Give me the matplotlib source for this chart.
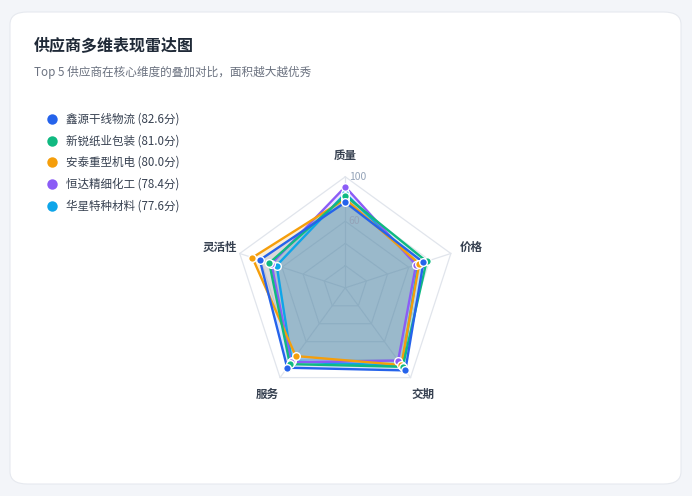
import numpy as np
import matplotlib
matplotlib.use("Agg")
from matplotlib import pyplot as plt
from matplotlib.patches import FancyBboxPatch
from matplotlib.lines import Line2D

plt.rcParams['font.family'] = ['Noto Sans CJK SC', 'DejaVu Sans']

# 数据
dims = ['质量', '价格', '交期', '服务', '灵活性']
names = ['鑫源干线物流', '新锐纸业包装', '安泰重型机电', '恒达精细化工', '华星特种材料']
totals = [82.6, 81.0, 80.0, 78.4, 77.6]
scores = [
    [77, 74, 92, 89, 81],
    [83, 77, 88, 85, 72],
    [80, 70, 86, 76, 88],
    [91, 67, 81, 83, 70],
    [85, 69, 87, 82, 65],
]
colors = ['#2563eb', '#10b981', '#f59e0b', '#8b5cf6', '#0ea5e9']
levels = [20, 40, 60, 80, 100]
tick_show = [60, 100]

W, H = 692, 496
fig = plt.figure(figsize=(W / 100, H / 100), dpi=100)
fig.patch.set_facecolor('#f3f5f9')

card = FancyBboxPatch((10 / W, 12 / H), 671 / W, 472 / H,
                      boxstyle='round,pad=0,rounding_size=0.025',
                      transform=fig.transFigure, facecolor='white',
                      edgecolor='#e6e9ef', linewidth=0.8, zorder=-5)
fig.add_artist(card)

fig.text(34 / W, 1 - 46 / H, '供应商多维表现雷达图', fontsize=11.5, fontweight='bold',
         color='#1f2937', va='center', ha='left')
fig.text(34 / W, 1 - 72 / H, 'Top 5 供应商在核心维度的叠加对比，面积越大越优秀',
         fontsize=8.4, color='#6b7280', va='center', ha='left')

# 图例
for i, (n, t, c) in enumerate(zip(names, totals, colors)):
    y = 1 - (119 + i * 21.7) / H
    fig.add_artist(Line2D([52 / W], [y], marker='o', ms=7.5, color=c, mec='none',
                          transform=fig.transFigure))
    fig.text(66 / W, y, f'{n} ({t:.1f}分)', fontsize=8.3, color='#374151',
             va='center', ha='left')

# 雷达
cx, cy, R = 345.3, 287.8, 111.0
half = 150
lim = half / R * 100
ax = fig.add_axes([(cx - half) / W, (H - cy - half) / H, 2 * half / W, 2 * half / H])
ax.set_xlim(-lim, lim)
ax.set_ylim(-lim, lim)
ax.axis('off')

ang = np.arange(len(dims)) * 2 * np.pi / len(dims)
sx, sy = np.sin(ang), np.cos(ang)

for lv in levels:
    ax.plot(np.append(sx, sx[0]) * lv, np.append(sy, sy[0]) * lv,
            color='#e1e5ec', lw=0.9, zorder=1)
for k in range(len(dims)):
    ax.plot([0, sx[k] * 100], [0, sy[k] * 100], color='#e1e5ec', lw=0.9, zorder=1)

for tv in tick_show:
    ax.text(3, tv, str(tv), fontsize=7.5, color='#94a3b8', va='center', ha='left', zorder=6)

for k, d in enumerate(dims):
    ax.text(sx[k] * 119, sy[k] * 119, d, fontsize=8.3, fontweight='bold',
            color='#374151', ha='center', va='center')

# 第一名画在最上层
for s, c in reversed(list(zip(scores, colors))):
    v = np.array(s, dtype=float)
    xs, ys = sx * v, sy * v
    ax.fill(xs, ys, color=c, alpha=0.16, lw=0, zorder=2)
    ax.plot(np.append(xs, xs[0]), np.append(ys, ys[0]), color=c, lw=1.7, zorder=3)
    ax.plot(xs, ys, 'o', color=c, ms=5.5, mec='white', mew=1.0, zorder=4)

fig.savefig('out.png', dpi=100, facecolor=fig.get_facecolor())
